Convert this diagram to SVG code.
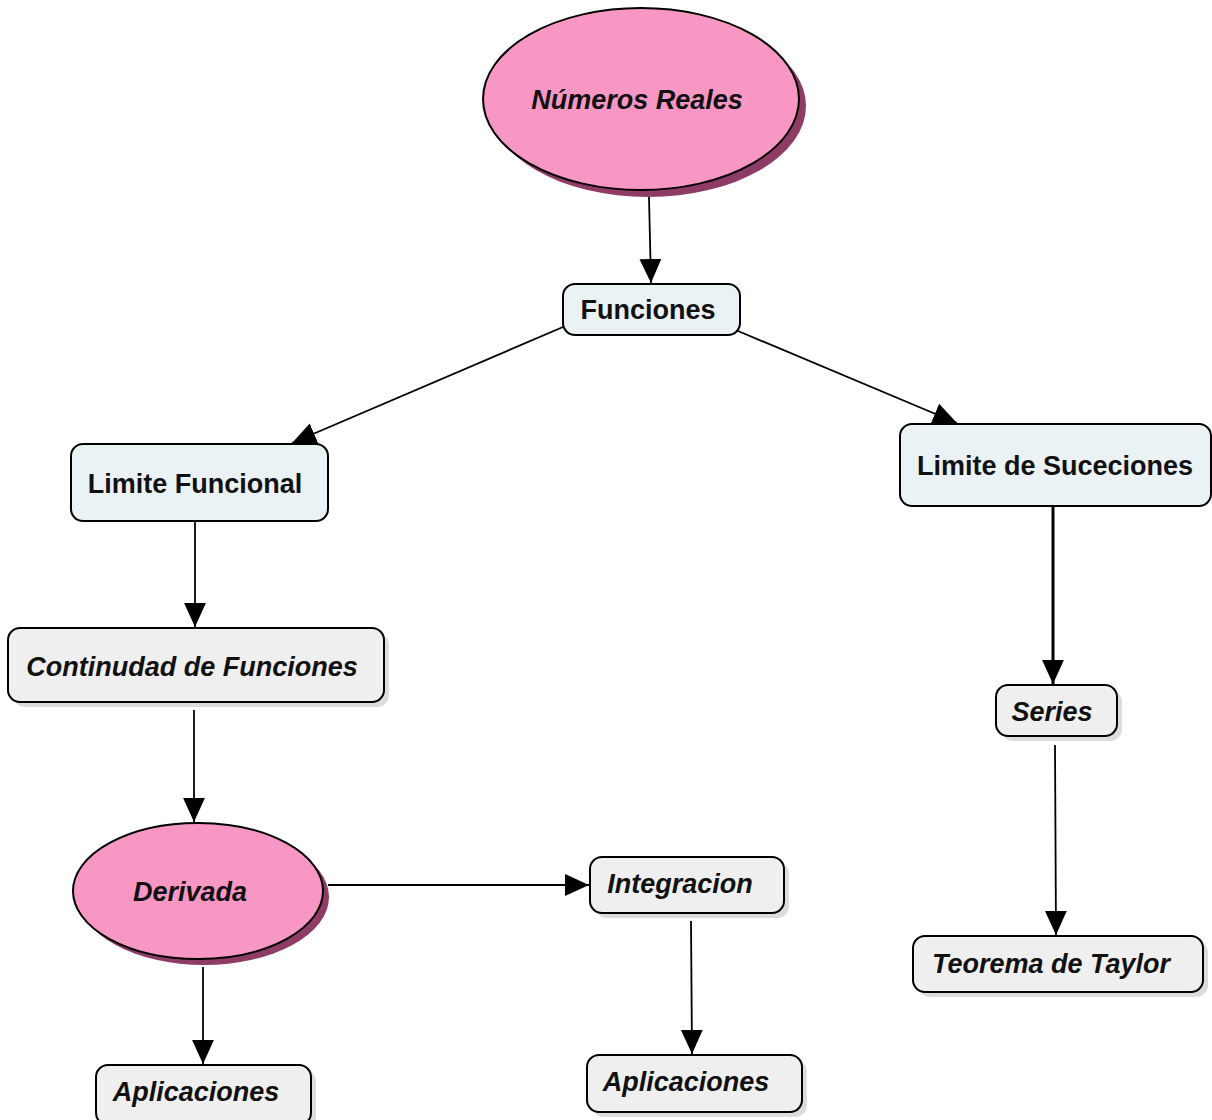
<svg xmlns="http://www.w3.org/2000/svg" width="1212" height="1120" viewBox="0 0 1212 1120">
<defs>
<style>
.blue{fill:#EAF2F5;stroke:#000;stroke-width:2}
.grey{fill:#EFEFEF;stroke:#000;stroke-width:2}
.gshadow{fill:#DCDCDC}
.ell{fill:#F997C4;stroke:#000;stroke-width:2}
.eshadow{fill:#8E3B66}
.t{font-family:"Liberation Sans",Arial,sans-serif;font-size:27px;font-weight:bold;fill:#111;text-anchor:middle}
.i{font-style:italic}
.c{stroke:#000;stroke-width:1.8;fill:none;marker-end:url(#ah)}
</style>
<marker id="ah" markerUnits="userSpaceOnUse" markerWidth="24" markerHeight="24" viewBox="0 0 22 22" refX="22" refY="11" orient="auto">
<path d="M0,1 L22,11 L0,21 Z" fill="#000"/>
</marker>
</defs>
<rect width="1212" height="1120" fill="#fff"/>
<g id="connectors">
<line class="c" x1="649" y1="197" x2="651" y2="283"/>
<line class="c" x1="563" y1="327" x2="292" y2="443"/>
<line class="c" x1="738" y1="331" x2="957" y2="423"/>
<line class="c" x1="195" y1="521" x2="195" y2="627"/>
<line class="c" x1="194" y1="710" x2="194" y2="822"/>
<line class="c" x1="328" y1="885" x2="589" y2="885"/>
<line class="c" x1="203" y1="967" x2="203" y2="1064"/>
<line class="c" x1="691" y1="921" x2="692" y2="1054"/>
<line class="c" x1="1053" y1="506" x2="1053" y2="684" style="stroke-width:3"/>
<line class="c" x1="1055" y1="745" x2="1056" y2="935"/>
</g>
<g id="numeros-reales">
<ellipse class="eshadow" cx="648" cy="106" rx="158" ry="91"/>
<ellipse class="ell" cx="641" cy="99" rx="158" ry="91"/>
<text class="t i" x="637" y="109">Números Reales</text>
</g>
<g id="funciones">
<rect class="blue" x="563" y="284" width="177" height="51" rx="12"/>
<text class="t" x="648" y="319">Funciones</text>
</g>
<g id="limite-funcional">
<rect class="blue" x="71" y="444" width="257" height="77" rx="12"/>
<text class="t" x="195" y="493">Limite Funcional</text>
</g>
<g id="limite-suceciones">
<rect class="blue" x="900" y="424" width="311" height="82" rx="12"/>
<text class="t" x="1055" y="475">Limite de Suceciones</text>
</g>
<g id="continudad">
<rect class="gshadow" x="13" y="633" width="376" height="74" rx="12"/>
<rect class="grey" x="8" y="628" width="376" height="74" rx="12"/>
<text class="t i" x="192" y="676">Continudad de Funciones</text>
</g>
<g id="derivada">
<ellipse class="eshadow" cx="204" cy="897" rx="125" ry="68"/>
<ellipse class="ell" cx="198" cy="891" rx="125" ry="68"/>
<text class="t i" x="190" y="901">Derivada</text>
</g>
<g id="integracion">
<rect class="gshadow" x="595" y="862" width="194" height="56" rx="12"/>
<rect class="grey" x="590" y="857" width="194" height="56" rx="12"/>
<text class="t i" x="680" y="893">Integracion</text>
</g>
<g id="aplicaciones-1">
<rect class="gshadow" x="101" y="1070" width="215" height="60" rx="12"/>
<rect class="grey" x="96" y="1065" width="215" height="60" rx="12"/>
<text class="t i" x="196" y="1101">Aplicaciones</text>
</g>
<g id="aplicaciones-2">
<rect class="gshadow" x="592" y="1060" width="215" height="57" rx="12"/>
<rect class="grey" x="587" y="1055" width="215" height="57" rx="12"/>
<text class="t i" x="686" y="1091">Aplicaciones</text>
</g>
<g id="series">
<rect class="gshadow" x="1001" y="690" width="121" height="51" rx="12"/>
<rect class="grey" x="996" y="685" width="121" height="51" rx="12"/>
<text class="t i" x="1052" y="721">Series</text>
</g>
<g id="teorema-taylor">
<rect class="gshadow" x="918" y="941" width="290" height="56" rx="12"/>
<rect class="grey" x="913" y="936" width="290" height="56" rx="12"/>
<text class="t i" x="1051" y="973">Teorema de Taylor</text>
</g>
</svg>
